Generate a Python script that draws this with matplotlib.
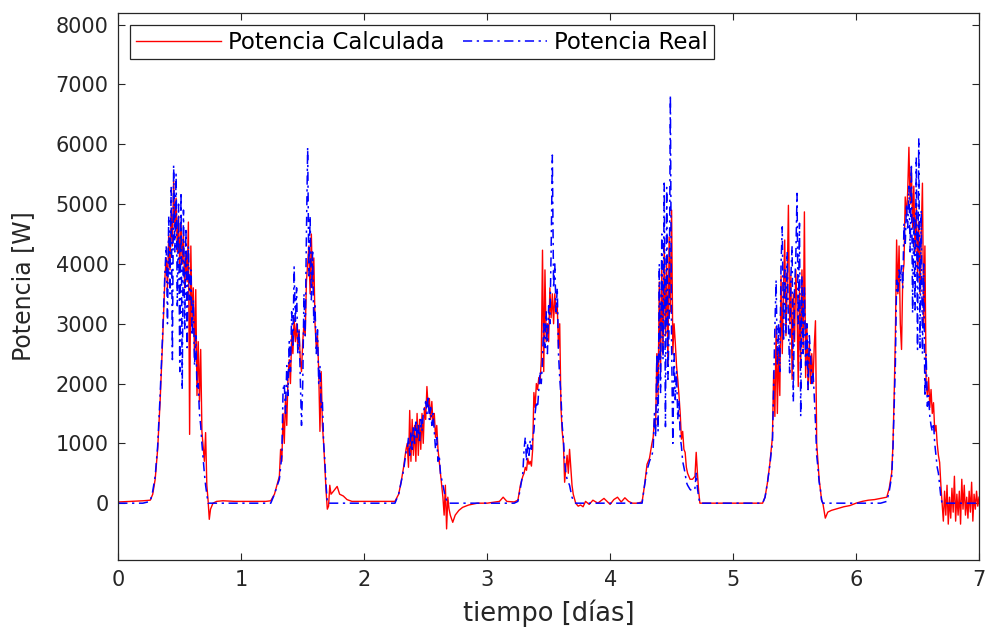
import numpy as np
import matplotlib
matplotlib.use("Agg")
import matplotlib.pyplot as plt

# ---------------- data ----------------
t_d1 = [0.00, 0.20, 0.26, 0.28, 0.30, 0.32, 0.34, 0.36, 0.38,
        0.39, 0.40, 0.41, 0.42, 0.43, 0.44, 0.45, 0.46, 0.47, 0.48,
        0.49, 0.50, 0.51, 0.52, 0.53, 0.54, 0.55, 0.56, 0.57, 0.58,
        0.59, 0.60, 0.61, 0.62, 0.63, 0.64, 0.65, 0.66, 0.67, 0.68,
        0.70, 0.71, 0.72, 0.73, 0.74, 0.75, 0.77, 0.80, 0.85, 0.95]
calc_d1 = [20, 40, 50, 150, 400, 900, 1700, 2700, 3800,
           4100, 3600, 4500, 3900, 4900, 4300, 5400, 4600, 5100, 4200,
           4800, 3900, 4700, 4000, 4500, 3600, 4200, 3700, 4700, 1150,
           4300, 3000, 3600, 2400, 3570, 1800, 2700, 1700, 2570, 1200,
           700, 1180, 300, 50, -270, -100, 0, 30, 40, 30]
real_d1 = [0, 0, 30, 200, 450, 950, 1800, 2800, 3900,
           4300, 3000, 4800, 3500, 5300, 2400, 5650, 4200, 5500, 3300,
           5000, 2200, 5200, 1900, 4900, 2900, 4600, 2600, 4300, 3400,
           3900, 2800, 3400, 2300, 2800, 1900, 2000, 1500, 1300, 1000,
           500, 300, 150, 0, 0, 0, 0, 0, 0, 0]

t_d2 = [1.00, 1.20, 1.24, 1.27, 1.29, 1.31, 1.32, 1.33, 1.34,
        1.35, 1.36, 1.37, 1.38, 1.39, 1.40, 1.41, 1.42, 1.43, 1.44,
        1.45, 1.46, 1.47, 1.48, 1.49, 1.50, 1.51, 1.52, 1.53, 1.54,
        1.55, 1.56, 1.57, 1.58, 1.59, 1.60, 1.61, 1.62, 1.63, 1.64,
        1.65, 1.66, 1.67, 1.68, 1.69,
        1.70, 1.71, 1.72, 1.73, 1.75, 1.78, 1.80, 1.83, 1.86, 1.90, 1.95]
calc_d2 = [30, 30, 40, 150, 300, 450, 900, 700, 1500,
           1000, 1800, 1300, 2100, 2400, 2000, 2800, 2500, 3100, 2700,
           3000, 2600, 2900, 2400, 2200, 2700, 3000, 2800, 3700, 4000,
           4300, 3500, 4500, 3600, 4100, 3000, 2600, 2800, 2200, 1200,
           2200, 1300, 1000, 600, 200,
           -100, -50, 300, 150, 200, 280, 150, 120, 60, 30, 30]
real_d2 = [0, 0, 0, 150, 280, 400, 600, 800, 1900,
           2000, 1500, 2300, 1800, 2700, 2200, 3200, 2600, 3950, 3000,
           3600, 2500, 2900, 2100, 1300, 2000, 3500, 2800, 4500, 5950,
           3800, 4800, 3400, 4200, 3000, 3300, 2500, 2900, 2000, 2300,
           1600, 1700, 1000, 700, 300,
           0, 0, 0, 0, 0, 0, 0, 0, 0, 0, 0]

t_d3 = [2.00, 2.22, 2.25, 2.28, 2.30, 2.32, 2.34,
        2.35, 2.36, 2.37, 2.38, 2.39, 2.40, 2.41, 2.42, 2.43, 2.44,
        2.45, 2.46, 2.47, 2.48, 2.49, 2.50, 2.51, 2.52, 2.53, 2.54,
        2.55, 2.56, 2.57, 2.58, 2.59, 2.60, 2.61, 2.62, 2.63, 2.64,
        2.65, 2.66,
        2.67, 2.68, 2.69, 2.70, 2.72, 2.74, 2.77, 2.80, 2.85, 2.92]
calc_d3 = [30, 30, 30, 150, 350, 600, 900,
           1000, 600, 1550, 700, 1400, 800, 1300, 700, 1500, 800,
           1400, 900, 1500, 1000, 1600, 1400, 1950, 1600, 1750, 1400,
           1700, 1300, 1500, 1100, 1300, 900, 700, 500, 300, 100,
           -200, 300,
           -430, 100, -100, -200, -320, -200, -120, -70, -30, 0]
real_d3 = [0, 0, 0, 150, 350, 550, 850,
           900, 1100, 800, 1200, 900, 1300, 1000, 1400, 1100, 1300,
           1000, 1400, 1200, 1500, 1600, 1700, 1500, 1800, 1400, 1600,
           1300, 1500, 1200, 900, 1100, 700, 800, 500, 400, 300,
           200, 100,
           50, 0, 0, 0, 0, 0, 0, 0, 0, 0]

t_d4 = [3.00, 3.10, 3.13, 3.16, 3.22, 3.25, 3.27, 3.29,
        3.30, 3.31, 3.32, 3.33, 3.34, 3.35, 3.36, 3.37, 3.38, 3.39,
        3.40, 3.41, 3.42, 3.43, 3.44, 3.45, 3.46, 3.47, 3.48, 3.49,
        3.50, 3.51, 3.52, 3.53, 3.54, 3.55, 3.56, 3.57, 3.58, 3.59,
        3.60, 3.61, 3.62, 3.63, 3.64, 3.65, 3.66, 3.67, 3.68, 3.69,
        3.70, 3.72, 3.74, 3.76, 3.78, 3.80, 3.83, 3.86, 3.90, 3.95,
        4.00, 4.03, 4.06, 4.09, 4.12, 4.15, 4.18]
calc_d4 = [0, 30, 100, 30, 20, 50, 300, 450,
           500, 600, 550, 750, 650, 700, 620, 900, 1850, 1600,
           2000, 1900, 2100, 2000, 2400, 4230, 2200, 3900, 2700, 3000,
           2700, 3600, 3100, 3500, 3000, 3500, 3170, 3300, 2600, 3000,
           1600, 1200, 1000, 350, 600, 800, 500, 900, 600, 300,
           150, 0, -50, -30, -60, 30, -20, 50, 0, 80,
           -20, 60, 100, 20, 90, 30, 0]
real_d4 = [0, 0, 0, 0, 0, 30, 250, 500,
           900, 1100, 700, 1000, 800, 1050, 900, 1100, 1200, 1500,
           1700, 1600, 1900, 2200, 2000, 2400, 3000, 2600, 3200, 2500,
           3300, 3000, 4200, 5820, 3600, 4000, 3200, 3600, 2500, 2100,
           1800, 1300, 1070, 700, 500, 400, 350, 300, 200, 100,
           50, 0, 0, 0, 0, 0, 0, 0, 0, 0,
           0, 0, 0, 0, 0, 0, 0]

t_d5 = [4.22, 4.26, 4.28, 4.30, 4.32, 4.34, 4.35, 4.36, 4.37,
        4.38, 4.39, 4.40, 4.41, 4.42, 4.43, 4.44, 4.45, 4.46, 4.47,
        4.48, 4.49, 4.50, 4.51, 4.52, 4.53, 4.54, 4.55, 4.56, 4.57,
        4.58, 4.59, 4.60, 4.61, 4.62, 4.63, 4.65, 4.67, 4.69, 4.70,
        4.71, 4.72, 4.73, 4.76, 5.00, 5.24]
calc_d5 = [0, 20, 300, 650, 750, 1000, 1100, 1400, 1300,
           2500, 1800, 3700, 2200, 3900, 2500, 4280, 2800, 4000, 2300,
           4450, 3200, 4900, 2500, 3000, 2680, 2300, 2070, 1800, 1500,
           1070, 1200, 900, 850, 600, 500, 400, 400, 450, 850,
           500, 200, 0, 0, 0, 0]
real_d5 = [0, 0, 300, 550, 700, 800, 900, 1500, 1100,
           2500, 1200, 4000, 1850, 4500, 2400, 5350, 1280, 5280, 2070,
           3000, 6820, 2620, 1000, 2500, 1730, 2200, 1400, 1730, 1100,
           950, 700, 600, 500, 350, 300, 230, 200, 250, 500,
           250, 100, 0, 0, 0, 0]

t_d6 = [5.26, 5.28, 5.30, 5.31, 5.32, 5.33, 5.34, 5.35, 5.36, 5.37,
        5.38, 5.39, 5.40, 5.41, 5.42, 5.43, 5.44, 5.45, 5.46, 5.47,
        5.48, 5.49, 5.50, 5.51, 5.52, 5.53, 5.54, 5.55, 5.56, 5.57,
        5.58, 5.59, 5.60, 5.61, 5.62, 5.63, 5.64, 5.65, 5.66, 5.67,
        5.68, 5.69, 5.70, 5.71, 5.72, 5.73, 5.75, 5.77, 5.80, 5.85,
        5.90, 5.95, 6.00, 6.05, 6.10, 6.15, 6.20, 6.25]
calc_d6 = [100, 350, 680, 900, 1100, 2200, 1450, 2950, 1500, 2600,
           1800, 3800, 2500, 3600, 4400, 2800, 3700, 4980, 3000, 3800,
           2070, 3500, 2700, 3900, 3300, 1950, 3600, 2300, 3900, 2600,
           4870, 2100, 3000, 1900, 2700, 2000, 2500, 2000, 2620, 3050,
           1000, 700, 400, 230, 50, 0, -250, -150, -120, -90,
           -60, -40, 0, 30, 50, 60, 80, 100]
real_d6 = [100, 350, 650, 850, 1000, 2000, 2950, 3730, 2300, 3000,
           2200, 4000, 4620, 2700, 3900, 2830, 4200, 3000, 2180, 3800,
           4300, 1700, 3600, 4100, 5180, 3000, 4680, 1450, 3800, 2500,
           3600, 2300, 3000, 1900, 2800, 2500, 2000, 2200, 1800, 1350,
           800, 600, 350, 230, 50, 0, 0, 0, 0, 0,
           0, 0, 0, 0, 0, 0, 0, 30]

t_d7 = [6.27, 6.29, 6.30, 6.31, 6.32, 6.33, 6.34, 6.35, 6.36, 6.37,
        6.38, 6.39, 6.40, 6.41, 6.42, 6.43, 6.44, 6.45, 6.46, 6.47,
        6.48, 6.49, 6.50, 6.51, 6.52, 6.53, 6.54, 6.55, 6.56, 6.57,
        6.58, 6.59, 6.60, 6.61, 6.62, 6.63, 6.64, 6.65, 6.66, 6.67,
        6.68, 6.69, 6.70, 6.71, 6.72, 6.73, 6.74, 6.75, 6.76, 6.77,
        6.78, 6.79, 6.80, 6.81, 6.82, 6.83, 6.84, 6.85, 6.86, 6.87,
        6.88, 6.89, 6.90, 6.91, 6.92, 6.93, 6.94, 6.95, 6.96, 6.97,
        6.98, 6.99, 7.00]
calc_d7 = [250, 510, 960, 1800, 2800, 4400, 3500, 4300, 3000, 2570,
           3800, 4000, 5120, 4800, 5200, 5950, 5000, 5600, 4600, 5300,
           4200, 5000, 3800, 4700, 3500, 4500, 5350, 3000, 4300, 2000,
           1800, 2100, 1600, 1900, 1500, 1680, 1200, 1300, 1000, 800,
           680, 300, 0, -300, 200, -200, 300, -350, 100, -250,
           250, -150, 450, -300, 150, -200, 200, -350, 400, -100,
           300, -200, 100, -250, 200, -150, 350, -300, 150, -100,
           200, -50, 100]
real_d7 = [200, 450, 900, 1600, 2340, 3730, 3500, 3900, 3700, 4000,
           3600, 4680, 4300, 5000, 4600, 5300, 4200, 5670, 3180, 4800,
           3230, 5780, 2570, 6100, 2600, 4900, 2500, 4000, 1780, 2500,
           1620, 1800, 1450, 1300, 1200, 1340, 1000, 800, 600, 500,
           300, 100, 0, 0, 0, 0, 0, 0, 0, 0,
           0, 0, 0, 0, 0, 0, 0, 0, 0, 0,
           0, 0, 0, 0, 0, 0, 0, 0, 0, 0,
           0, 0, 0]

x_ticks = [0, 1, 2, 3, 4, 5, 6, 7]
y_ticks = [0, 1000, 2000, 3000, 4000, 5000, 6000, 7000, 8000]
label_calc = "Potencia Calculada"
label_real = "Potencia Real"
x_label = "tiempo [días]"
y_label = "Potencia [W]"

# ---------------- assemble ----------------
t = np.concatenate([t_d1, t_d2, t_d3, t_d4, t_d5, t_d6, t_d7])
p_calc = np.concatenate([calc_d1, calc_d2, calc_d3, calc_d4, calc_d5, calc_d6, calc_d7])
p_real = np.concatenate([real_d1, real_d2, real_d3, real_d4, real_d5, real_d6, real_d7])

plt.rcParams['font.family'] = ['DejaVu Sans']
dark = (0.15, 0.15, 0.15)

fig = plt.figure(figsize=(9.86, 6.30), dpi=100)
ax_left, ax_right, ax_top, ax_bottom = 118.3, 979.0, 12.7, 560.0
ax = fig.add_axes([ax_left / 986, (630 - ax_bottom) / 630,
                   (ax_right - ax_left) / 986, (ax_bottom - ax_top) / 630])

ax.plot(t, p_calc, color=(1, 0, 0), lw=1.0, label=label_calc)
ax.plot(t, p_real, color=(0, 0, 1), lw=1.1, ls=(0, (6, 3, 1.5, 3)), label=label_real)

ax.set_xlim(0, 7)
ax.set_ylim(-950, 8200)
ax.set_xticks(x_ticks)
ax.set_yticks(y_ticks)
ax.tick_params(direction='in', length=5, width=0.8, top=True, right=True,
               colors=dark, labelsize=15, pad=7)
for s in ax.spines.values():
    s.set_color(dark)
    s.set_linewidth(0.9)

ax.set_xlabel(x_label, fontsize=18.5, color=dark, labelpad=7)
ax.set_ylabel(y_label, fontsize=17, color=dark, labelpad=15)

w_px = ax_right - ax_left
h_px = ax_bottom - ax_top
leg = ax.legend(loc='upper left', bbox_to_anchor=(12 / w_px, 1 - 12.3 / h_px),
                borderaxespad=0, ncol=2, frameon=True, fancybox=False,
                edgecolor=dark, handlelength=3.7, handletextpad=0.3,
                columnspacing=0.8, borderpad=0.25, fontsize=16.5)
leg.get_frame().set_linewidth(0.9)
leg.get_frame().set_alpha(1)

fig.savefig("out.png", dpi=100)
